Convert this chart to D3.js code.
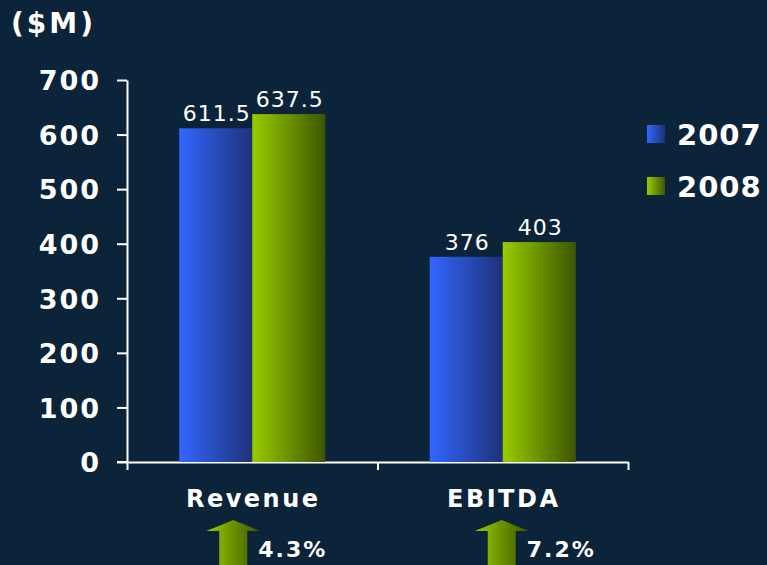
<!DOCTYPE html>
<html><head><meta charset="utf-8">
<script src="https://cdn.jsdelivr.net/npm/d3@7"></script>
<style>
html,body{margin:0;padding:0;background:#0b243a;}
svg{display:block;}
text{font-family:"DejaVu Sans",Verdana,sans-serif;fill:#ffffff;}
</style></head><body>
<script>
const categories = ["Revenue", "EBITDA"];
const series = ["2007", "2008"];
const values2007 = [611.5, 376];
const values2008 = [637.5, 403];
const valueLabels2007 = ["611.5", "376"];
const valueLabels2008 = ["637.5", "403"];
const growthLabels = ["4.3%", "7.2%"];
const yTicks = [0, 100, 200, 300, 400, 500, 600, 700];
const unitLabel = "($M)";

const W = 767, H = 565;
const svg = d3.select("body").append("svg").attr("width", W).attr("height", H);
svg.append("rect").attr("width", W).attr("height", H).attr("fill", "#0b243a");

const defs = svg.append("defs");
function grad(id, c1, c2) {
  const g = defs.append("linearGradient").attr("id", id).attr("x1", "0%").attr("x2", "100%").attr("y1", "0%").attr("y2", "0%");
  g.append("stop").attr("offset", "0%").attr("stop-color", c1);
  g.append("stop").attr("offset", "100%").attr("stop-color", c2);
}
grad("gBlue", "#3366ff", "#1e3278");
grad("gGreen", "#99cc00", "#3d5500");
const fills = {"2007": "url(#gBlue)", "2008": "url(#gGreen)"};

const x0 = 127, x1 = 628, yBase = 462, yTop = 80;
const y = d3.scaleLinear().domain([0, 700]).range([yBase, yTop]);
const xCat = d3.scaleBand().domain(categories).range([x0, x1]).padding(0);
const xSer = d3.scaleBand().domain(series).range([0, xCat.bandwidth()]).paddingInner(0).paddingOuter(0.715);

// y axis
const yAxis = svg.append("g").attr("transform", `translate(${x0},0)`)
  .call(d3.axisLeft(y).tickValues(yTicks).tickSize(10).tickSizeOuter(0));
yAxis.select(".domain").attr("stroke", "#fff").attr("stroke-width", 2);
yAxis.selectAll(".tick line").attr("stroke", "#fff").attr("stroke-width", 2);
yAxis.selectAll(".tick text").attr("fill", "#fff").style("font-size", "27px").style("font-weight", "bold")
  .style("letter-spacing", "2px").attr("dy", "0.36em").attr("x", -26);

// x axis
const xLin = d3.scaleLinear().domain([0, categories.length]).range([x0, x1]);
const xAxis = svg.append("g").attr("transform", `translate(0,${yBase})`)
  .call(d3.axisBottom(xLin).tickValues(d3.range(categories.length + 1)).tickFormat("").tickSize(8).tickSizeOuter(0));
xAxis.select(".domain").attr("stroke", "#fff").attr("stroke-width", 2);
xAxis.selectAll(".tick line").attr("stroke", "#fff").attr("stroke-width", 2);
svg.append("line").attr("x1", x0 - 10).attr("x2", x0).attr("y1", yBase).attr("y2", yBase).attr("stroke", "#fff").attr("stroke-width", 2);

// bars
const rows = categories.map((c, i) => ({cat: c, vals: [
  {s: "2007", v: values2007[i], lbl: valueLabels2007[i]},
  {s: "2008", v: values2008[i], lbl: valueLabels2008[i]}]}));
const grp = svg.selectAll(".grp").data(rows).enter().append("g").attr("transform", d => `translate(${xCat(d.cat)},0)`);
grp.selectAll("rect").data(d => d.vals).enter().append("rect")
  .attr("x", d => xSer(d.s)).attr("width", xSer.bandwidth())
  .attr("y", d => y(d.v)).attr("height", d => yBase - y(d.v)).attr("fill", d => fills[d.s]);
grp.selectAll(".vl").data(d => d.vals).enter().append("text")
  .attr("x", d => xSer(d.s) + xSer.bandwidth() / 2 + 1).attr("y", d => y(d.v) - 7)
  .attr("text-anchor", "middle").style("font-size", "22px").style("letter-spacing", "1px").text(d => d.lbl);

// category labels
svg.selectAll(".cl").data(categories).enter().append("text")
  .attr("x", d => xCat(d) + xCat.bandwidth() / 2 + 1).attr("y", 507)
  .attr("text-anchor", "middle").style("font-size", "24px").style("font-weight", "bold").style("letter-spacing", "2.5px")
  .text(d => d);

// growth arrows
const arrowShift = [-19, -1];
categories.forEach((c, i) => {
  const cx = xCat(c) + xCat.bandwidth() / 2 + arrowShift[i];
  const tip = 520, hb = 531;
  const p = d3.path();
  p.moveTo(cx, tip); p.lineTo(cx + 27, hb); p.lineTo(cx + 14, hb); p.lineTo(cx + 14, H + 5);
  p.lineTo(cx - 14, H + 5); p.lineTo(cx - 14, hb); p.lineTo(cx - 27, hb); p.closePath();
  svg.append("path").attr("d", p.toString()).attr("fill", "url(#gGreen)");
  svg.append("text").attr("x", cx + 25).attr("y", 557).style("font-size", "22px").style("font-weight", "bold")
    .style("letter-spacing", "2px").text(growthLabels[i]);
});

// unit label
svg.append("text").attr("x", 11).attr("y", 33).style("font-size", "28px").style("font-weight", "bold")
  .style("letter-spacing", "3px").text(unitLabel);

// legend
const leg = svg.selectAll(".lg").data(series).enter().append("g").attr("transform", (d, i) => `translate(647,${125 + i * 52})`);
leg.append("rect").attr("width", 18).attr("height", 18).attr("fill", d => fills[d]);
leg.append("text").attr("x", 30).attr("y", 20).style("font-size", "29px").style("font-weight", "bold")
  .style("letter-spacing", "1px").text(d => d);
</script>
</body></html>
